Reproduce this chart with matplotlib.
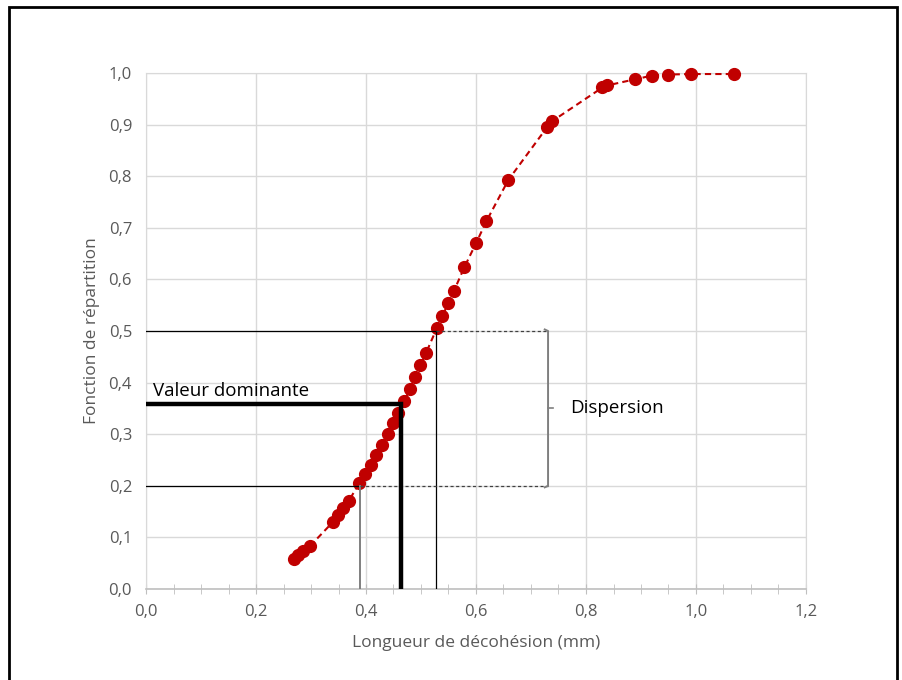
import matplotlib.pyplot as plt
import matplotlib.patches as patches
import numpy as np

# longueur de decohesion (mm) et fonction de repartition
longueur = [0.269, 0.276, 0.285, 0.298, 0.340, 0.349, 0.358, 0.369, 0.388, 0.398,
            0.409, 0.419, 0.430, 0.440, 0.449, 0.459, 0.470, 0.480, 0.489, 0.499,
            0.509, 0.529, 0.539, 0.550, 0.560, 0.579, 0.600, 0.619, 0.659, 0.730,
            0.739, 0.830, 0.839, 0.890, 0.920, 0.949, 0.991, 1.070]
repartition = [0.058, 0.066, 0.074, 0.083, 0.130, 0.143, 0.157, 0.171, 0.206, 0.222,
               0.240, 0.260, 0.279, 0.300, 0.322, 0.342, 0.365, 0.388, 0.411, 0.434,
               0.457, 0.506, 0.530, 0.554, 0.578, 0.624, 0.670, 0.713, 0.793, 0.896,
               0.907, 0.972, 0.976, 0.988, 0.995, 0.997, 0.998, 0.998]

# valeurs de reference
x_20, y_20 = 0.389, 0.2
x_50, y_50 = 0.527, 0.5
x_dom, y_dom = 0.464, 0.358
x_bracket = 0.731

plt.rcParams['font.family'] = ['Open Sans', 'DejaVu Sans']

fig = plt.figure(figsize=(9.03, 6.80), dpi=100)
ax = fig.add_axes([146/903, 1-589/680, (806-146)/903, (589-73)/680])

grid_c = '#d9d9d9'
txt_c = '#595959'

ax.set_xlim(0, 1.2)
ax.set_ylim(0, 1.0)
ax.set_xticks(np.arange(0, 1.21, 0.2))
ax.set_xticks(np.arange(0, 1.21, 0.05), minor=True)
ax.set_yticks(np.arange(0, 1.01, 0.1))
ax.set_xticklabels([f"{v:.1f}".replace('.', ',') for v in np.arange(0, 1.21, 0.2)])
ax.set_yticklabels([f"{v:.1f}".replace('.', ',') for v in np.arange(0, 1.01, 0.1)])
ax.grid(True, which='major', color=grid_c, linewidth=1)
ax.set_axisbelow(True)
for s in ['left', 'top', 'right']:
    ax.spines[s].set_color(grid_c)
ax.spines['bottom'].set_color('#bfbfbf')
ax.spines['bottom'].set_linewidth(1.2)
ax.tick_params(axis='y', length=0, pad=10, labelsize=12, labelcolor=txt_c)
ax.tick_params(axis='x', which='both', direction='inout', length=7, color='#bfbfbf',
               pad=7, labelsize=12, labelcolor=txt_c)
ax.set_xlabel("Longueur de décohésion (mm)", fontsize=12.5, color=txt_c, labelpad=11)
ax.set_ylabel("Fonction de répartition", fontsize=12.5, color=txt_c, labelpad=6)

# courbe
ax.plot(longueur, repartition, linestyle=(0, (3, 2)), color='#c00000', linewidth=1.5,
        marker='o', markersize=8.5, markerfacecolor='#c00000', markeredgecolor='#c00000',
        zorder=3, clip_on=False)

# lignes de lecture
ax.plot([0, x_50], [y_50, y_50], color='black', linewidth=0.9, zorder=4)
ax.plot([x_50, x_50], [0, y_50], color='black', linewidth=0.9, zorder=4)
ax.plot([x_50, x_bracket], [y_50, y_50], color='#404040', linewidth=0.9,
        linestyle=(0, (2.5, 2)), zorder=4)
ax.plot([0, x_20], [y_20, y_20], color='black', linewidth=0.9, zorder=4)
ax.plot([x_20, x_20], [0, y_20], color='#7f7f7f', linewidth=1.4, zorder=4)
ax.plot([x_20, x_bracket], [y_20, y_20], color='#404040', linewidth=0.9,
        linestyle=(0, (2.5, 2)), zorder=4)

# valeur dominante
ax.plot([0, x_dom, x_dom], [y_dom, y_dom, 0], color='black', linewidth=3.2,
        solid_joinstyle='miter', zorder=5)
ax.text(0.012, y_dom + 0.008, "Valeur dominante", fontsize=13.5, color='black',
        ha='left', va='bottom')

# accolade de dispersion
ax.plot([x_bracket - 0.006, x_bracket, x_bracket, x_bracket - 0.006],
        [y_50 + 0.003, y_50, y_20, y_20 - 0.003], color='#7f7f7f', linewidth=1.4, zorder=4)
ax.plot([x_bracket, x_bracket + 0.009], [(y_20 + y_50) / 2, (y_20 + y_50) / 2],
        color='#7f7f7f', linewidth=1.2, zorder=4)
ax.text(x_bracket + 0.04, (y_20 + y_50) / 2, "Dispersion", fontsize=13.5, color='black',
        ha='left', va='center')

# cadre exterieur
fig.patches.append(patches.Rectangle((9/903, -0.02), (897-9)/903, 1 - 7/680 + 0.02,
                                     transform=fig.transFigure, fill=False,
                                     edgecolor='black', linewidth=2))

plt.savefig("out.png", dpi=100)
